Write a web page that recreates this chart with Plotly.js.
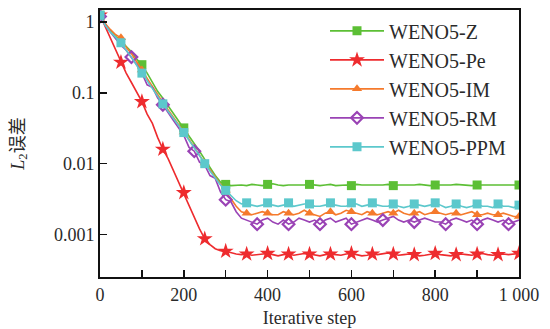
<!DOCTYPE html>
<html>
<head>
<meta charset="utf-8">
<script src="https://cdn.plot.ly/plotly-3.0.1.min.js"></script>
<style>
  html, body { margin: 0; padding: 0; background: #fff; }
  #chart { width: 550px; height: 329px; }
</style>
</head>
<body>
<div id="chart"></div>
<script>
// Iteration steps (every 12.5 iterations, 0 .. 1000)
const iters = Array.from({ length: 81 }, (_, i) => i * 12.5);

// L2 error history of each scheme
const wenoZ = [
  1.25, 0.92, 0.75, 0.62, 0.54, 0.45, 0.38, 0.30, 0.25,
  0.19, 0.14, 0.105, 0.084, 0.066, 0.052, 0.041, 0.032, 0.025,
  0.0195, 0.015, 0.0115, 0.0088, 0.0068, 0.0055, 0.0051, 0.0049, 0.0050,
  0.0050, 0.0049, 0.0051, 0.0050, 0.0049, 0.0051, 0.0052, 0.0050, 0.0049,
  0.0050, 0.0050, 0.0049, 0.0050, 0.0051, 0.0050, 0.0049, 0.0050, 0.0051,
  0.0049, 0.0050, 0.0050, 0.0049, 0.0051, 0.0050, 0.0050, 0.0049, 0.0050,
  0.0050, 0.0051, 0.0049, 0.0050, 0.0050, 0.0049, 0.0050, 0.0051, 0.0050,
  0.0049, 0.0050, 0.0050, 0.0049, 0.0050, 0.0051, 0.0050, 0.0050, 0.0049,
  0.0050, 0.0050, 0.0049, 0.0050, 0.0050, 0.0049, 0.0050, 0.0050, 0.0050
];

const wenoPe = [
  1.25, 0.85, 0.60, 0.40, 0.27, 0.19, 0.14, 0.102, 0.075,
  0.050, 0.037, 0.0235, 0.016, 0.0118, 0.0080, 0.0055, 0.0039, 0.0026,
  0.00178, 0.0012, 0.00087, 0.00072, 0.00063, 0.00059, 0.00058, 0.00055, 0.00053,
  0.00052, 0.00053, 0.00051, 0.00052, 0.00053, 0.00054, 0.00052, 0.00050, 0.00052,
  0.00053, 0.00051, 0.00052, 0.00054, 0.00053, 0.00051, 0.00050, 0.00052, 0.00053,
  0.00052, 0.00051, 0.00053, 0.00054, 0.00052, 0.00050, 0.00051, 0.00053, 0.00052,
  0.00054, 0.00055, 0.00053, 0.00051, 0.00052, 0.00053, 0.00052, 0.00050, 0.00051,
  0.00053, 0.00054, 0.00052, 0.00051, 0.00050, 0.00052, 0.00053, 0.00052, 0.00051,
  0.00053, 0.00054, 0.00052, 0.00051, 0.00052, 0.00053, 0.00052, 0.00053, 0.00054
];

const wenoIM = [
  1.25, 0.95, 0.78, 0.66, 0.60, 0.44, 0.36, 0.28, 0.21,
  0.16, 0.125, 0.095, 0.073, 0.058, 0.046, 0.036, 0.028, 0.022,
  0.017, 0.013, 0.0102, 0.0082, 0.0065, 0.0052, 0.0042, 0.0032, 0.0025,
  0.0021, 0.0020, 0.0019, 0.0020, 0.0021, 0.0020, 0.0019, 0.0019, 0.0021,
  0.0020, 0.0019, 0.0020, 0.0022, 0.0020, 0.0019, 0.0018, 0.0020, 0.0021,
  0.0019, 0.0020, 0.0022, 0.0021, 0.0020, 0.0019, 0.0021, 0.0020, 0.0019,
  0.0020, 0.0021, 0.0020, 0.0022, 0.0020, 0.0019, 0.0020, 0.0021, 0.0019,
  0.0020, 0.0021, 0.0020, 0.0019, 0.0020, 0.0020, 0.0019, 0.0020, 0.0021,
  0.0019, 0.0019, 0.0020, 0.0019, 0.0019, 0.0020, 0.0019, 0.0018, 0.0018
];

const wenoRM = [
  1.20, 0.90, 0.72, 0.58, 0.47, 0.40, 0.32, 0.25, 0.19,
  0.13, 0.12, 0.085, 0.068, 0.052, 0.041, 0.032, 0.025, 0.017,
  0.015, 0.0105, 0.0095, 0.0068, 0.0062, 0.0040, 0.0031, 0.0029, 0.0021,
  0.0017, 0.0016, 0.0015, 0.0014, 0.0016, 0.0017, 0.0015, 0.0014, 0.0016,
  0.0014, 0.0015, 0.0017, 0.0016, 0.0015, 0.0016, 0.0014, 0.0016, 0.0017,
  0.0015, 0.0016, 0.0017, 0.0014, 0.0015, 0.0016, 0.0017, 0.0016, 0.0015,
  0.0016, 0.0017, 0.0018, 0.0016, 0.0015, 0.0016, 0.0015, 0.0016, 0.0017,
  0.0016, 0.0015, 0.0015, 0.0014, 0.0016, 0.0017, 0.0016, 0.0015, 0.0016,
  0.0014, 0.0016, 0.0017, 0.0016, 0.0015, 0.0016, 0.0014, 0.0015, 0.0016
];

const wenoPPM = [
  1.25, 0.90, 0.72, 0.60, 0.51, 0.40, 0.32, 0.245, 0.19,
  0.145, 0.115, 0.089, 0.070, 0.055, 0.044, 0.035, 0.0275, 0.0214,
  0.0166, 0.0126, 0.0100, 0.0079, 0.0063, 0.0050, 0.0042, 0.0035, 0.0030,
  0.0027, 0.0028, 0.0026, 0.0025, 0.0026, 0.0028, 0.0026, 0.0025, 0.0026,
  0.0028, 0.0025, 0.0026, 0.0027, 0.0027, 0.0025, 0.0025, 0.0026, 0.0028,
  0.0026, 0.0025, 0.0025, 0.0028, 0.0027, 0.0025, 0.0026, 0.0028, 0.0026,
  0.0025, 0.0025, 0.0027, 0.0025, 0.0024, 0.0025, 0.0027, 0.0026, 0.0025,
  0.0026, 0.0028, 0.0026, 0.0024, 0.0025, 0.0027, 0.0025, 0.0024, 0.0025,
  0.0027, 0.0025, 0.0025, 0.0024, 0.0027, 0.0025, 0.0025, 0.0024, 0.0026
];

// Axis ticks
const xTickVals = [0, 200, 400, 600, 800, 1000];
const xTickText = ['0', '200', '400', '600', '800', '1 000'];
const xMinorVals = [100, 300, 500, 700, 900];
const yTickVals = [0.001, 0.01, 0.1, 1];
const yTickText = ['0.001', '0.01', '0.1', '1'];

const SERIF = '"Liberation Serif", "Times New Roman", "Noto Sans CJK SC", serif';
const INK = '#2a2a2a';

// Drawing style per scheme; markers are placed every `every` samples
const schemes = [
  { name: 'WENO5-Z',   y: wenoZ,   color: '#5cbf35', symbol: 'square',       size: 9,  lw: 0, every: 8 },
  { name: 'WENO5-Pe',  y: wenoPe,  color: '#ee2b2e', symbol: 'star',         size: 12, lw: 0, every: 4 },
  { name: 'WENO5-IM',  y: wenoIM,  color: '#f57a2c', symbol: 'triangle-up',  size: 9,  lw: 0, every: 4 },
  { name: 'WENO5-RM',  y: wenoRM,  color: '#9a43b5', symbol: 'diamond-open', size: 9,  lw: 2.2, every: 6 },
  { name: 'WENO5-PPM', y: wenoPPM, color: '#5cc8cc', symbol: 'square',       size: 9,  lw: 0, every: 4 }
];

const traces = [];
schemes.forEach((s, k) => {
  traces.push({
    x: iters, y: s.y, mode: 'lines', type: 'scatter',
    line: { color: s.color, width: 1.6 },
    legendgroup: 'g' + k, showlegend: false, hoverinfo: 'skip'
  });
  const mx = iters.filter((_, i) => i % s.every === 0);
  const my = s.y.filter((_, i) => i % s.every === 0);
  traces.push({
    x: mx, y: my, mode: 'markers', type: 'scatter',
    marker: { color: s.color, symbol: s.symbol, size: s.size, line: { color: s.color, width: s.lw } },
    legendgroup: 'g' + k, showlegend: false, hoverinfo: 'skip'
  });
});
// Legend entries (line with marker)
schemes.forEach((s, k) => {
  traces.push({
    x: [null], y: [null], mode: 'lines+markers', type: 'scatter', name: s.name,
    line: { color: s.color, width: 1.6 },
    marker: { color: s.color, symbol: s.symbol, size: s.size, line: { color: s.color, width: s.lw } },
    legendgroup: 'g' + k, showlegend: true
  });
});

const layout = {
  width: 550, height: 329,
  margin: { l: 100, r: 31, t: 10, b: 52 },
  paper_bgcolor: '#ffffff', plot_bgcolor: '#ffffff',
  font: { family: SERIF, color: INK, size: 18 },
  showlegend: true,
  legend: {
    x: 0.537, y: 0.995, xanchor: 'left', yanchor: 'top',
    bgcolor: 'rgba(255,255,255,0)', borderwidth: 0,
    font: { family: SERIF, size: 20, color: INK },
    traceorder: 'grouped', tracegroupgap: 0, itemwidth: 54
  },
  xaxis: {
    range: [0, 1000], tickmode: 'array', tickvals: xTickVals, ticktext: xTickText,
    ticks: 'inside', ticklen: 7, tickwidth: 1.5, tickcolor: '#111',
    minor: { tickmode: 'array', tickvals: xMinorVals, ticks: 'inside', ticklen: 7, tickwidth: 1.5, tickcolor: '#111', showgrid: false },
    showline: true, linewidth: 2, linecolor: '#111', mirror: true,
    showgrid: false, zeroline: false,
    tickfont: { family: SERIF, size: 18, color: INK },
    title: { text: 'Iterative step', font: { family: SERIF, size: 18, color: INK }, standoff: 8 }
  },
  yaxis: {
    type: 'log', range: [-3.6, 0.17], tickmode: 'array', tickvals: yTickVals, ticktext: yTickText,
    ticks: 'inside', ticklen: 7, tickwidth: 1.5, tickcolor: '#111',
    showline: true, linewidth: 2, linecolor: '#111', mirror: true,
    showgrid: false, zeroline: false,
    tickfont: { family: SERIF, size: 18, color: INK },
    title: { text: '<i>L</i><sub>2</sub>误差', font: { family: SERIF, size: 18, color: INK }, standoff: 25 }
  }
};

Plotly.newPlot('chart', traces, layout, { staticPlot: true, displayModeBar: false });
</script>
</body>
</html>
